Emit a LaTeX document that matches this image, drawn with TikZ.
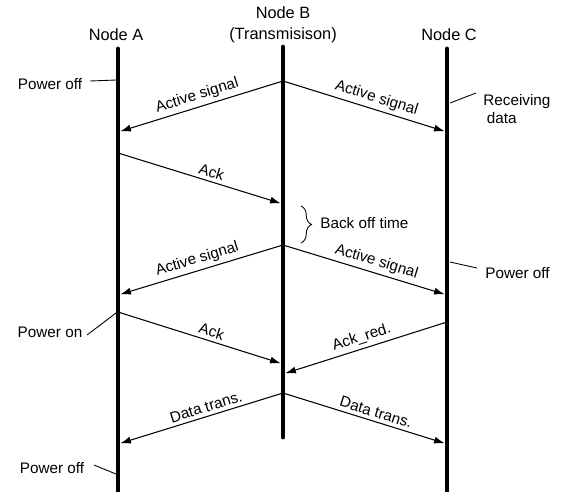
\documentclass[tikz,border=0pt]{standalone}
\usepackage{fontspec}
\setmainfont{Liberation Sans}
\usetikzlibrary{arrows.meta, decorations.pathreplacing, positioning}

\begin{document}
\begin{tikzpicture}[x=0.02cm, y=-0.02cm,
    life/.style={line width=2.8pt, line cap=round},
    msg/.style={line width=0.6pt, -{Latex[length=6pt,width=4pt]}, shorten >=1.4pt},
    lbl/.style={font=\fontsize{8.7}{10.5}\selectfont, sloped, above, inner sep=2pt},
    note/.style={font=\fontsize{8.7}{10.5}\selectfont, inner sep=0pt},
    head/.style={font=\fontsize{9.3}{11}\selectfont, inner sep=0pt},
    lead/.style={line width=0.5pt}]
  \useasboundingbox (0,0) rectangle (563,491);
  % headers
  \node[head] (nodeA) at (116,35) {Node A};
  \node[head] (nodeB) at (283,13) {Node B};
  \node[head] (nodeBt) at (283,35) {(Transmisison)};
  \node[head] (nodeC) at (449,35) {Node C};
  % lifelines
  \coordinate (Atop) at (118,49); \coordinate (Abot) at (118,493);
  \coordinate (Btop) at (283,47); \coordinate (Bbot) at (283,437);
  \coordinate (Ctop) at (447,49); \coordinate (Cbot) at (447,493);
  \draw[life] (Atop) -- (Abot);
  \draw[life] (Btop) -- (Bbot);
  \draw[life] (Ctop) -- (Cbot);
  % message points
  \coordinate (B1) at (283,81);  \coordinate (A1) at (118,132); \coordinate (C1) at (447,132);
  \coordinate (A2) at (118,153); \coordinate (B2) at (283,204);
  \coordinate (B3) at (283,245); \coordinate (A3) at (118,295); \coordinate (C3) at (447,295);
  \coordinate (A4) at (118,312); \coordinate (B4) at (283,364);
  \coordinate (C4) at (447,322); \coordinate (B5) at (283,374);
  \coordinate (B6) at (283,393); \coordinate (A6) at (118,444); \coordinate (C6) at (447,444);
  % messages
  \draw[msg] (B1) -- node[lbl] (as1) {Active signal} (A1);
  \draw[msg] (B1) -- node[lbl, pos=0.55] (as2) {Active signal} (C1);
  \draw[msg] (A2) -- node[lbl, pos=0.55] (ack1) {Ack} (B2);
  \draw[msg] (B3) -- node[lbl] (as3) {Active signal} (A3);
  \draw[msg] (B3) -- node[lbl, pos=0.55] (as4) {Active signal} (C3);
  \draw[msg] (A4) -- node[lbl, pos=0.55] (ack2) {Ack} (B4);
  \draw[msg] (C4) -- node[lbl, pos=0.5] (ackr) {Ack\_red.} (B5);
  \draw[msg] (B6) -- node[lbl, pos=0.45] (dt1) {Data trans.} (A6);
  \draw[msg] (B6) -- node[lbl, pos=0.55] (dt2) {Data trans.} (C6);
  % back off brace
  \coordinate (br1) at (301,206); \coordinate (br2) at (301,243);
  \draw[lead, decorate, decoration={brace, amplitude=6pt}] (br1) -- (br2);
  \node[note, anchor=west] (backoff) at (320,223) {Back off time};
  % state notes
  \node[note] (pwrA1) at (50,84) {Power off};
  \node[note, anchor=west, align=left] (recv) at (483,109) {Receiving\\\hspace*{2pt}data};
  \node[note, anchor=west] (pwrC) at (485,273) {Power off};
  \node[note] (pwrA2) at (50,332) {Power on};
  \node[note] (pwrA3) at (52,468) {Power off};
  % leaders
  \coordinate (l1) at (90,81);   \coordinate (e1) at (116,80);
  \coordinate (l2) at (476,93);  \coordinate (e2) at (450,103);
  \coordinate (l3) at (477,268); \coordinate (e3) at (450,262);
  \coordinate (l4) at (87,335);  \coordinate (e4) at (116,313);
  \coordinate (l5) at (94,465);  \coordinate (e5) at (116,474);
  \draw[lead] (l1) -- (e1);
  \draw[lead] (l2) -- (e2);
  \draw[lead] (l3) -- (e3);
  \draw[lead] (l4) -- (e4);
  \draw[lead] (l5) -- (e5);
\end{tikzpicture}
\end{document}
